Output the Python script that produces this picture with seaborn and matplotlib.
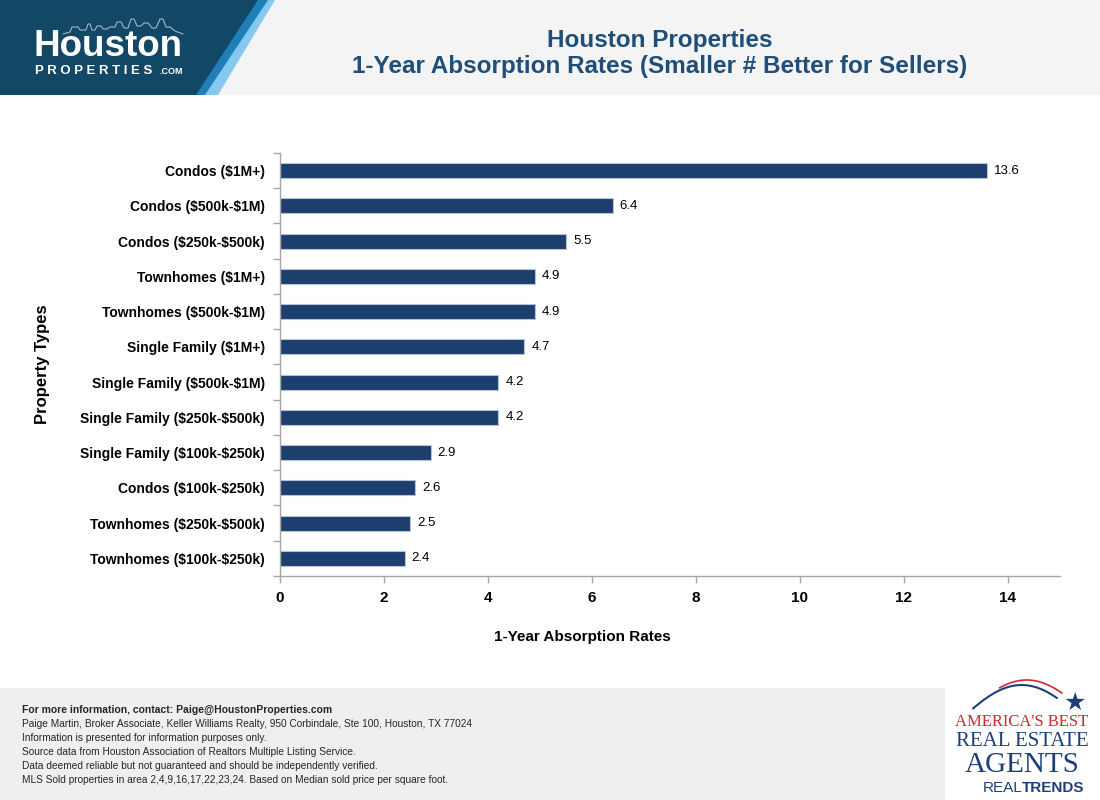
import matplotlib
matplotlib.use("Agg")
import matplotlib.pyplot as plt
import seaborn as sns
import pandas as pd
import numpy as np
from matplotlib.patches import Polygon, Rectangle
from matplotlib.lines import Line2D

categories = [
    "Condos ($1M+)", "Condos ($500k-$1M)", "Condos ($250k-$500k)",
    "Townhomes ($1M+)", "Townhomes ($500k-$1M)", "Single Family ($1M+)",
    "Single Family ($500k-$1M)", "Single Family ($250k-$500k)",
    "Single Family ($100k-$250k)", "Condos ($100k-$250k)",
    "Townhomes ($250k-$500k)", "Townhomes ($100k-$250k)",
]
values = [13.6, 6.4, 5.5, 4.9, 4.9, 4.7, 4.2, 4.2, 2.9, 2.6, 2.5, 2.4]
x_ticks = [0, 2, 4, 6, 8, 10, 12, 14]

title_lines = ["Houston Properties", "1-Year Absorption Rates (Smaller # Better for Sellers)"]
footer_lines = [
    "Paige Martin, Broker Associate, Keller Williams Realty, 950 Corbindale, Ste 100, Houston, TX 77024",
    "Information is presented for information purposes only.",
    "Source data from Houston Association of Realtors Multiple Listing Service.",
    "Data deemed reliable but not guaranteed and should be independently verified.",
    "MLS Sold properties in area 2,4,9,16,17,22,23,24. Based on Median sold price per square foot.",
]

df = pd.DataFrame({"Property": categories, "Rate": values})

sns.set_theme(style="white")
plt.rcParams['font.family'] = ['Liberation Sans', 'DejaVu Sans']
plt.rcParams['text.parse_math'] = False

fig = plt.figure(figsize=(11, 8), dpi=100)
W, H = 1100, 800

def px(x, y):
    return (x / W, 1 - y / H)

# Header background
fig.patches.append(Rectangle((0, 1 - 95 / H), 1, 95 / H, transform=fig.transFigure,
                             facecolor="#f4f4f4", edgecolor="none", zorder=0))
fig.patches.append(Polygon([px(0, 0), px(275, 0), px(218, 95), px(0, 95)], closed=True,
                           transform=fig.transFigure, facecolor="#87c8ee", edgecolor="none", zorder=1))
fig.patches.append(Polygon([px(0, 0), px(268, 0), px(205, 95), px(0, 95)], closed=True,
                           transform=fig.transFigure, facecolor="#1f7fb8", edgecolor="none", zorder=1))
fig.patches.append(Polygon([px(0, 0), px(258, 0), px(196, 95), px(0, 95)], closed=True,
                           transform=fig.transFigure, facecolor="#134766", edgecolor="none", zorder=2))
# Footer background
fig.patches.append(Rectangle((0, 0), 945 / W, 112 / H, transform=fig.transFigure,
                             facecolor="#efefef", edgecolor="none", zorder=0))

# Skyline decoration
sky_x = [63, 70, 72, 78, 80, 86, 88, 90, 92, 95, 97, 101, 103, 107, 110, 115, 117, 121, 124,
         128, 131, 134, 137, 141, 144, 148, 152, 156, 160, 163, 166, 170, 175, 183]
sky_y = [34, 32, 27, 27, 30, 30, 24, 24, 30, 30, 26, 26, 29, 29, 27, 27, 22, 22, 28,
         28, 19, 19, 26, 26, 23, 23, 28, 28, 19, 19, 27, 27, 31, 34]
fig.lines.append(Line2D([x / W for x in sky_x], [1 - y / H for y in sky_y],
                        transform=fig.transFigure, color="#9fb7c9", linewidth=0.8, zorder=3))

# Logo text
fig.text(33 / W, 1 - 46 / H, "Houston", color="white", fontsize=26.5, fontweight="bold",
         ha="left", va="center", zorder=3)
fig.text(35 / W, 1 - 71 / H, "P R O P E R T I E S", color="white", fontsize=9.5, fontweight="bold",
         ha="left", va="center", zorder=3)
fig.text(159 / W, 1 - 72 / H, ".COM", color="white", fontsize=6.5, fontweight="bold",
         ha="left", va="center", zorder=3)

# Title
fig.text(660 / W, 1 - 40 / H, title_lines[0], color="#1f4e79", fontsize=17.5, fontweight="bold",
         ha="center", va="center")
fig.text(660 / W, 1 - 66 / H, title_lines[1], color="#1f4e79", fontsize=17.5, fontweight="bold",
         ha="center", va="center")

# Chart
ax = fig.add_axes([280 / W, 1 - 576 / H, 780 / W, 423 / H])
sns.barplot(data=df, x="Rate", y="Property", order=categories, color="#1d3f6e",
            width=0.42, edgecolor="#b7c4d6", linewidth=0.8, saturation=1, ax=ax)
ax.set_xlim(0, 15)
ax.set_xticks(x_ticks)
ax.set_xticklabels([str(t) for t in x_ticks], fontsize=11, fontweight="bold", color="black")
ax.set_ylim(len(categories) - 0.5, -0.5)
ax.set_yticks(range(len(categories)))
ax.set_yticklabels(categories, fontsize=10, fontweight="bold", color="black")
ax.tick_params(axis="y", length=0, pad=11)
ax.tick_params(axis="x", length=5, color="#a6a6a6", width=1, direction="out", pad=6)
ax.set_yticks([i - 0.5 for i in range(len(categories) + 1)], minor=True)
ax.tick_params(axis="y", which="minor", length=5, color="#a6a6a6", width=1, left=True)
ax.xaxis.set_tick_params(bottom=True)
for s in ["top", "right"]:
    ax.spines[s].set_visible(False)
for s in ["left", "bottom"]:
    ax.spines[s].set_color("#a6a6a6")
    ax.spines[s].set_linewidth(1)
ax.set_xlabel("1-Year Absorption Rates", fontsize=11, fontweight="bold", color="black")
ax.xaxis.set_label_coords((582 - 280) / 780, -(637 - 576) / 423)
ax.xaxis.label.set_va("center")
ax.set_ylabel("Property Types", fontsize=12, fontweight="bold", color="black")
ax.yaxis.set_label_coords(-(280 - 43) / 780, (576 - 364) / 423)
ax.yaxis.label.set_va("center")
for c in ax.containers:
    ax.bar_label(c, labels=[f"{v:.1f}" for v in values], padding=5, fontsize=9.5, color="black")

# Footer text
fig.text(22 / W, 1 - 710 / H, "For more information, contact: Paige@HoustonProperties.com",
         fontsize=7.5, fontweight="bold", ha="left", va="center")
for i, line in enumerate(footer_lines):
    fig.text(22 / W, 1 - (724 + 14 * i) / H, line, fontsize=7.3, ha="left", va="center")

# Right logo
theta = np.linspace(0.15, 0.85, 40)
arc_x = 955 + 120 * theta
arc_y = 725 - 40 * np.sin(np.pi * theta * 0.9)
fig.lines.append(Line2D(arc_x / W, 1 - arc_y / H, transform=fig.transFigure,
                        color="#1c3f7a", linewidth=1.5))
fig.lines.append(Line2D((arc_x[10:] + 5) / W, 1 - (arc_y[10:] - 5) / H, transform=fig.transFigure,
                        color="#d22630", linewidth=1.2))
fig.text(1022 / W, 1 - 722 / H, "AMERICA'S BEST", color="#d22630", fontsize=12,
         family=["Liberation Serif", "DejaVu Serif"], ha="center", va="center")
fig.text(1022 / W, 1 - 742 / H, "REAL ESTATE", color="#1c3f7a", fontsize=15,
         family=["Liberation Serif", "DejaVu Serif"], ha="center", va="center")
fig.text(1022 / W, 1 - 765 / H, "AGENTS", color="#1c3f7a", fontsize=21,
         family=["Liberation Serif", "DejaVu Serif"], ha="center", va="center")
fig.text(1022 / W, 1 - 788 / H, "REAL", color="#1c3f7a", fontsize=11,
         ha="right", va="center")
fig.text(1022 / W, 1 - 788 / H, "TRENDS", color="#1c3f7a", fontsize=11, fontweight="bold",
         ha="left", va="center")
fig.text(1075 / W, 1 - 703 / H, "★", color="#1c3f7a", fontsize=18, ha="center", va="center",
         family=["DejaVu Sans"])

fig.savefig("out.png", dpi=100)
